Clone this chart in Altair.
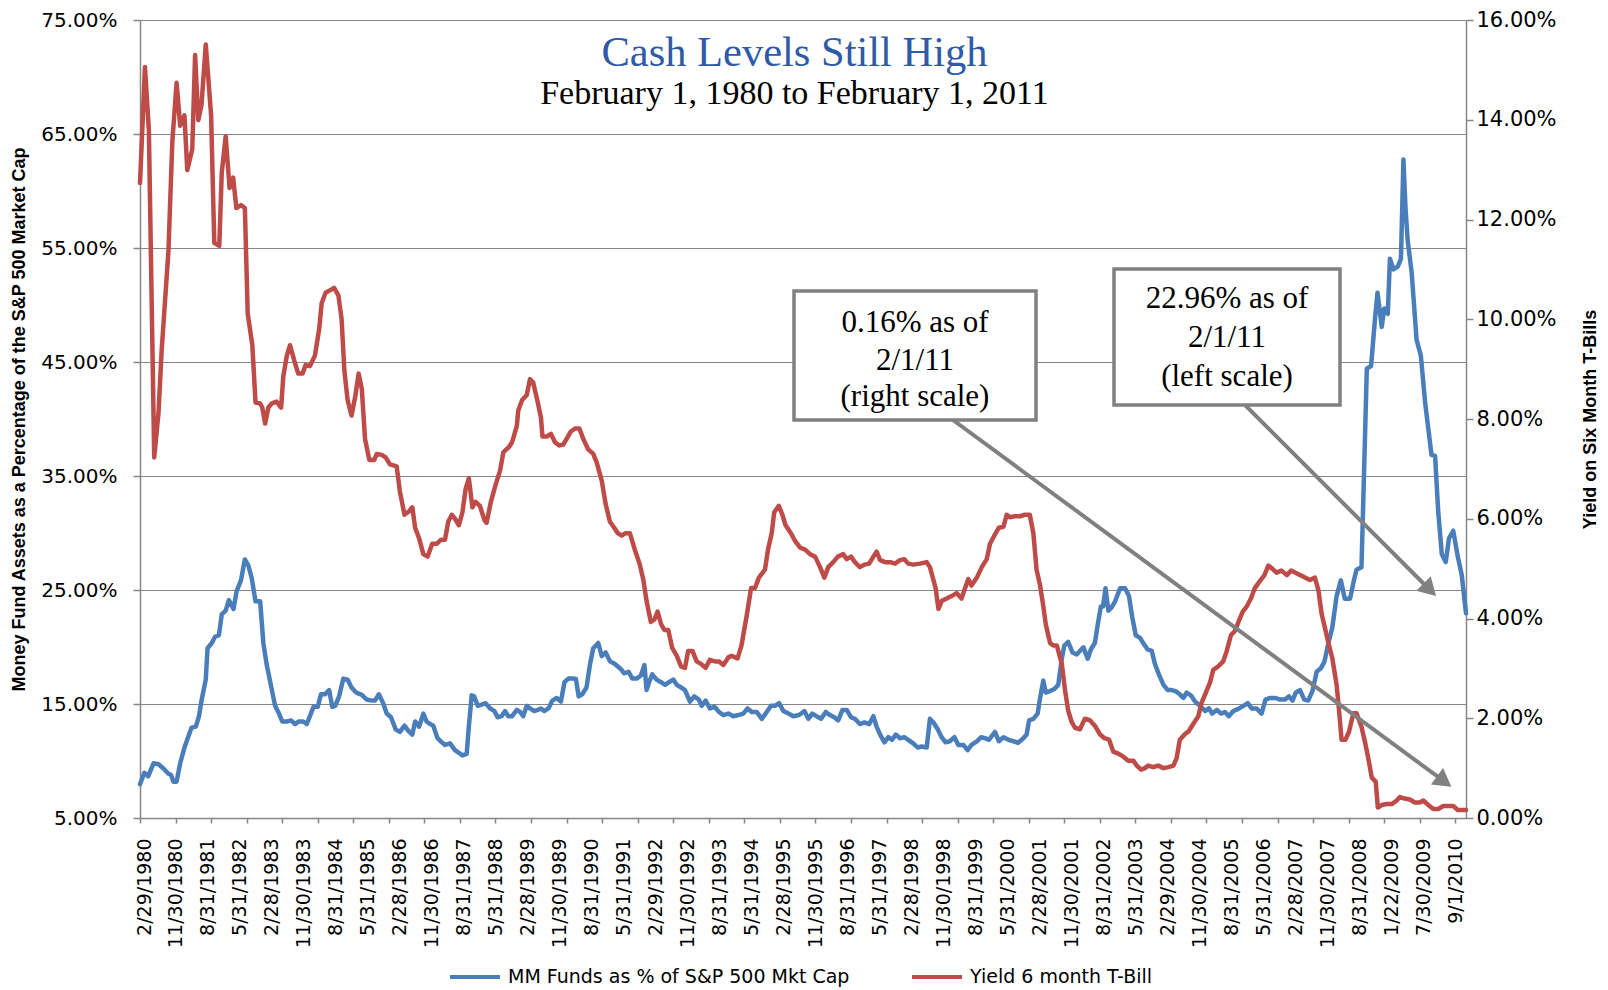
import math
import altair as alt
import pandas as pd

# ---------------- data ----------------
x_labels = ["2/29/1980", "11/30/1980", "8/31/1981", "5/31/1982", "2/28/1983", "11/30/1983",
            "8/31/1984", "5/31/1985", "2/28/1986", "11/30/1986", "8/31/1987", "5/31/1988",
            "2/28/1989", "11/30/1989", "8/31/1990", "5/31/1991", "2/29/1992", "11/30/1992",
            "8/31/1993", "5/31/1994", "2/28/1995", "11/30/1995", "8/31/1996", "5/31/1997",
            "2/28/1998", "11/30/1998", "8/31/1999", "5/31/2000", "2/28/2001", "11/30/2001",
            "8/31/2002", "5/31/2003", "2/29/2004", "11/30/2004", "8/31/2005", "5/31/2006",
            "2/28/2007", "11/30/2007", "8/31/2008", "1/22/2009", "7/30/2009", "9/1/2010"]
label_step = 9
tick_step = 10
last_obs = 373

left_ticks = [5, 15, 25, 35, 45, 55, 65, 75]
right_ticks = [0, 2, 4, 6, 8, 10, 12, 14, 16]

mm_name = "MM Funds as % of S&P 500 Mkt Cap"
tb_name = "Yield 6 month T-Bill"

# observation number (position along the time axis) and value in %
mm_idx = [0, 1.2, 2.3, 3.8, 5.2, 6.6, 8, 8.7, 9.4, 10.3, 11.3, 12.5, 13.8, 14.5, 15.7, 16.6, 17.3, 18.5, 19, 20.2,
          21.1, 22.2, 23, 24.1, 25, 26.3, 27.2, 28.4, 29.5, 30.5, 31.4, 32.5, 33.8, 34.7, 35.6, 36.8, 38, 39.1, 40, 41.3,
          42.5, 43.6, 44.7, 45.9, 46.9, 47.8, 48.8, 50, 50.9, 52, 53.2, 54.1, 54.9, 56, 57.2, 58.4, 59.5, 60.8, 62.4, 63.8,
          65.2, 66.1, 67.2, 68.4, 69.4, 70.6, 71.9, 73.1, 74.4, 75.5, 76.6, 77.4, 78.5, 79.7, 80.6, 81.6, 82.5, 83.7, 84.9, 85.8,
          87.2, 88.6, 89.7, 90.7, 91.9, 92.5, 93.3, 94, 95, 96.1, 97.2, 98.5, 99.7, 100.6, 101.7, 102.7, 103.6, 104.7, 106, 106.9,
          107.8, 108.8, 109.7, 110.9, 111.9, 112.8, 113.7, 114.9, 116, 117.2, 118.4, 119.4, 120.5, 121.9, 122.6, 123.4, 124.4, 125.6, 126.6, 127.5,
          128.9, 129.9, 131, 132.2, 133.6, 135.3, 136.2, 137.4, 138.5, 139.7, 140.9, 141.9, 142.5, 143.2, 144.1, 145.3, 146.6, 147.7, 148.8, 150,
          151, 152.2, 153.3, 154.7, 155.9, 157.2, 158, 159.1, 160.3, 161.6, 162.9, 164.1, 165.5, 166.9, 168.3, 169.7, 170.9, 172.1, 173.5, 174.9,
          176, 177.5, 178.6, 179.8, 181, 182.4, 183.8, 185.4, 186.9, 188, 189.1, 190.3, 191.6, 192.9, 194.1, 195.3, 196.4, 197.6, 198.8, 200,
          201.1, 202.5, 203.8, 205.1, 206.3, 207.2, 208.2, 209.4, 210.5, 211.5, 212.6, 213.8, 215, 216.1, 217.5, 218.8, 219.9, 221.3, 222.2, 223.2,
          224.4, 225.5, 226.6, 227.8, 229.1, 230.2, 231.6, 232.8, 233.9, 235.4, 236.6, 237.7, 238.8, 240.5, 241.6, 242.9, 244.3, 245.7, 247, 248.5,
          249.4, 250.1, 251.3, 252.5, 253.2, 254.1, 254.8, 256, 257.2, 258.3, 259.3, 260, 261.1, 262.3, 263.5, 264.4, 265.4, 266.6, 267.5, 268.6,
          269.4, 270.3, 270.9, 271.6, 272.4, 273.3, 274.3, 275.7, 277.1, 278.2, 279.1, 280.1, 281.3, 282.2, 283.4, 284.6, 285.5, 286.6, 287.9, 289.1,
          290.2, 291.3, 292.5, 293.5, 294.4, 295.6, 296.8, 298.2, 299.6, 300.7, 301.6, 302.9, 304.1, 305.2, 306.3, 307.5, 308.8, 310.4, 311.6, 312.7,
          314.1, 315.5, 316.6, 317.9, 319.3, 320.7, 322.1, 323.2, 324.2, 325.1, 326.3, 327.5, 328.6, 329.8, 331, 332.2, 333.2, 334.3, 335.4, 336.6,
          337.8, 338.9, 340.4, 341.3, 342.2, 343.6, 344.1, 345.1, 346.3, 347.4, 348.1, 349.3, 350, 351, 351.6, 352.6, 353.8, 354.7, 355.4, 356,
          356.6, 357.7, 359.1, 360.3, 361.5, 362.4, 363.3, 364.3, 365.2, 366.2, 367.3, 368.2, 369.4, 370.7, 371.8, 373]
mm_val = [7.96, 8.97, 8.66, 9.80, 9.71, 9.34, 8.88, 8.79, 8.19, 8.19, 9.80, 11.18, 12.32, 12.92, 13.01, 13.93, 15.30, 17.14, 19.89, 20.35,
          20.90, 21.03, 22.87, 23.19, 24.11, 23.33, 24.93, 25.85, 27.68, 27.13, 26.08, 24.01, 24.01, 20.35, 18.51, 16.68, 14.84, 14.16, 13.47, 13.47,
          13.56, 13.24, 13.47, 13.47, 13.24, 13.93, 14.75, 14.75, 15.85, 15.85, 16.22, 14.75, 14.84, 15.67, 17.23, 17.14, 16.45, 16.0, 15.8, 15.39,
          15.30, 15.30, 15.85, 15.07, 14.16, 13.84, 12.78, 12.55, 13.10, 12.64, 12.32, 13.47, 13.01, 14.16, 13.47, 13.24, 13.10, 12.00, 11.64, 11.41,
          11.55, 10.95, 10.72, 10.49, 10.63, 13.01, 15.76, 15.67, 14.84, 14.94, 15.07, 14.61, 14.38, 13.84, 13.93, 14.38, 13.93, 13.93, 14.48, 14.30,
          13.93, 14.84, 14.61, 14.38, 14.48, 14.61, 14.38, 14.61, 15.30, 15.53, 15.21, 16.91, 17.23, 17.23, 17.2, 15.67, 15.85, 16.45, 18.51, 19.89,
          20.35, 19.20, 19.52, 18.74, 18.51, 18.05, 17.69, 17.83, 17.23, 17.23, 17.50, 18.42, 16.22, 16.91, 17.60, 17.14, 16.91, 16.68, 16.91, 17.14,
          16.68, 16.45, 16.22, 15.21, 15.67, 15.39, 14.84, 15.30, 14.61, 14.75, 14.30, 14.03, 14.16, 13.93, 14.03, 14.16, 14.61, 14.30, 14.30, 13.70,
          14.16, 14.84, 14.84, 15.07, 14.38, 14.16, 13.93, 14.03, 14.38, 13.70, 14.16, 13.93, 13.70, 14.30, 14.03, 13.84, 13.56, 14.48, 14.48, 13.84,
          13.70, 13.24, 13.38, 13.24, 13.93, 13.01, 12.32, 11.64, 12.09, 11.86, 12.32, 12.00, 12.09, 11.86, 11.55, 11.18, 11.27, 11.18, 13.70, 13.38,
          12.78, 12.09, 11.64, 11.73, 12.09, 11.41, 11.41, 10.95, 11.41, 11.73, 12.09, 12.00, 11.86, 12.55, 11.73, 12.09, 11.86, 11.73, 11.6, 12.00,
          12.32, 13.56, 13.70, 14.16, 15.53, 17.05, 16.00, 16.13, 16.32, 16.68, 18.97, 20.12, 20.44, 19.52, 19.34, 19.66, 19.97, 18.97, 19.80, 20.35,
          21.95, 23.56, 23.56, 25.16, 23.19, 23.47, 24.01, 25.16, 25.16, 24.47, 22.64, 21.03, 20.80, 20.35, 19.80, 19.66, 18.51, 17.60, 16.68, 16.22,
          16.22, 16.13, 15.85, 15.53, 15.99, 15.76, 15.21, 14.84, 14.38, 14.61, 14.16, 14.48, 14.16, 14.30, 13.93, 14.38, 14.55, 14.84, 15.07, 14.61,
          14.61, 14.16, 15.39, 15.53, 15.53, 15.39, 15.39, 15.67, 15.30, 15.99, 16.22, 15.39, 15.30, 16.13, 17.83, 18.15, 18.74, 20.35, 21.72, 24.47,
          25.85, 24.24, 24.24, 25.62, 26.77, 27.00, 32.73, 44.42, 44.65, 48.77, 51.07, 48.08, 49.69, 49.23, 54.05, 53.13, 53.36, 54.05, 62.76, 58.40,
          55.65, 52.90, 46.94, 45.56, 41.44, 39.14, 36.85, 36.76, 31.81, 28.14, 27.45, 29.52, 30.20, 27.91, 26.31, 22.96]

tb_idx = [0, 1.4, 2.5, 4, 5.2, 6.1, 8, 9.1, 10.3, 11.3, 12.5, 13.3, 14.7, 15.5, 16.4, 17.3, 18.5, 20, 20.9, 22.3,
          23, 24.1, 25.2, 26.2, 27.1, 28.4, 29.5, 30.3, 31.6, 32.5, 33.8, 34.4, 35.2, 36.1, 37, 38.4, 39.7, 40.3, 41.3, 42.2,
          43.4, 44.5, 45.7, 46.6, 47.8, 49.2, 50.4, 51.1, 52.2, 53.4, 54.6, 55.8, 56.7, 57.5, 58.4, 59.5, 60.5, 61.5, 62.4, 63.3,
          64.5, 65.9, 66.6, 68, 69.1, 70.3, 72.2, 73.1, 74.4, 75.7, 76.6, 77.4, 78.5, 79.7, 80.9, 82.2, 83.5, 84.7, 85.8, 86.7,
          87.7, 88.6, 89.7, 90.7, 91.6, 92.5, 93.5, 94.4, 95.6, 96.9, 97.5, 98.7, 99.9, 101.3, 102.2, 103.8, 104.7, 106, 106.4, 107.5,
          108.8, 109.7, 110.6, 111.9, 112.8, 113.2, 114.4, 115.6, 116.7, 117.9, 119.1, 120, 121.2, 122.4, 123.6, 124.7, 126.1, 127.5, 128.5, 129.9,
          131, 132.2, 133.4, 134.4, 135.5, 136.6, 137.8, 139.1, 140.6, 141.6, 142.5, 143.7, 144.7, 145.6, 146.6, 147.5, 148.6, 149.7, 151, 152.2,
          153.3, 154.2, 155.4, 156.6, 157.8, 159.1, 160.3, 161.7, 162.9, 164.1, 165.5, 166.4, 168.1, 169.2, 170.6, 171.9, 173, 174.1, 175.8, 176.7,
          177.7, 178.4, 179.7, 180.7, 181.6, 183.1, 184.3, 185.7, 187.1, 188.5, 189.9, 191.3, 192.5, 193.6, 195, 196.3, 197.8, 198.8, 200, 201.1,
          202.5, 203.8, 205.1, 206.3, 207.2, 208.2, 209.6, 211, 212.4, 213.8, 215, 216.1, 217.5, 219.4, 221.3, 222.2, 223.2, 223.8, 224.6, 225.5,
          226.9, 228.3, 229.7, 231.1, 232.1, 233, 233.9, 235.4, 236.8, 238.2, 239.1, 240.3, 241.6, 242.9, 243.8, 244.7, 246.1, 247.5, 248.9, 250.3,
          251.3, 252.2, 253.2, 254.1, 254.8, 256, 256.9, 257.9, 259.3, 260.2, 261.1, 262.1, 263, 264.4, 265.8, 267.2, 268.6, 270, 271.3, 272.6,
          273.8, 275.2, 276.6, 278, 279.4, 280.4, 281.6, 282.7, 283.6, 285, 286.4, 287.9, 289.3, 290.7, 291.6, 292.5, 293.9, 294.9, 296.3, 297.7,
          298.6, 299.8, 301, 301.9, 303.3, 304.7, 305.7, 306.9, 308, 309.1, 310.2, 311.3, 312.5, 313.6, 315, 316.3, 317.4, 318.5, 319.7, 321.1,
          322.6, 323.8, 324.9, 326.3, 327.7, 329.1, 330.5, 331.5, 332.4, 333.3, 334.3, 335.4, 336.6, 337.3, 338, 339.1, 340.1, 341.3, 342.2, 343.6,
          344.6, 345.5, 346.5, 347.6, 348.2, 349.3, 350.7, 352.1, 353.5, 354.4, 355.8, 357.2, 358.6, 360, 361, 362.4, 363.8, 365.2, 366.6, 368,
          369.4, 370.7, 373]
tb_val = [12.73, 15.06, 13.78, 7.23, 8.12, 9.38, 11.37, 13.57, 14.74, 13.88, 14.09, 12.99, 13.41, 15.30, 13.99, 14.30, 15.51, 14.09, 11.53, 11.47,
          12.94, 13.67, 12.63, 12.84, 12.23, 12.29, 12.23, 10.11, 9.48, 8.33, 8.31, 8.23, 7.91, 8.23, 8.31, 8.35, 8.23, 8.85, 9.27, 9.48,
          9.17, 8.91, 8.91, 9.08, 9.06, 9.27, 9.80, 10.32, 10.53, 10.58, 10.63, 10.48, 10.01, 8.96, 8.38, 8.07, 8.43, 8.91, 8.6, 7.6,
          7.18, 7.18, 7.30, 7.28, 7.23, 7.09, 7.05, 6.55, 6.08, 6.15, 6.23, 5.82, 5.61, 5.29, 5.24, 5.50, 5.50, 5.58, 5.58, 5.94,
          6.08, 6.00, 5.87, 6.13, 6.60, 6.81, 6.23, 6.34, 6.26, 5.97, 5.92, 6.34, 6.65, 6.97, 7.33, 7.44, 7.54, 7.86, 8.17, 8.38,
          8.48, 8.80, 8.73, 8.33, 8.02, 7.65, 7.65, 7.70, 7.54, 7.47, 7.49, 7.60, 7.75, 7.81, 7.81, 7.60, 7.39, 7.30, 7.12, 6.76,
          6.29, 5.94, 5.82, 5.71, 5.66, 5.71, 5.71, 5.40, 5.08, 4.77, 4.35, 3.93, 3.98, 4.14, 3.88, 3.77, 3.77, 3.41, 3.25, 3.04,
          3.01, 3.35, 3.35, 3.14, 3.09, 3.01, 3.17, 3.14, 3.14, 3.07, 3.22, 3.25, 3.20, 3.46, 4.03, 4.61, 4.61, 4.82, 4.98, 5.40,
          5.71, 6.13, 6.26, 6.08, 5.87, 5.71, 5.55, 5.42, 5.38, 5.29, 5.24, 5.03, 4.82, 5.03, 5.13, 5.24, 5.29, 5.19, 5.24, 5.13,
          5.03, 5.08, 5.10, 5.24, 5.34, 5.17, 5.13, 5.13, 5.10, 5.17, 5.19, 5.10, 5.08, 5.10, 5.13, 5.03, 4.77, 4.61, 4.19, 4.35,
          4.40, 4.45, 4.51, 4.40, 4.61, 4.79, 4.66, 4.82, 5.03, 5.19, 5.50, 5.66, 5.82, 5.84, 6.08, 6.03, 6.05, 6.05, 6.08, 6.08,
          5.71, 4.98, 4.66, 4.24, 3.88, 3.51, 3.46, 3.46, 3.09, 2.57, 2.15, 1.92, 1.81, 1.78, 1.99, 1.96, 1.85, 1.68, 1.60, 1.57,
          1.33, 1.29, 1.23, 1.15, 1.15, 1.05, 0.97, 1.00, 1.05, 1.02, 1.05, 1.00, 1.02, 1.05, 1.20, 1.57, 1.68, 1.73, 1.89, 2.04,
          2.31, 2.51, 2.72, 2.97, 3.04, 3.14, 3.35, 3.67, 3.75, 3.95, 4.14, 4.24, 4.40, 4.61, 4.75, 4.87, 5.06, 5.00, 4.92, 4.96,
          4.87, 4.96, 4.92, 4.87, 4.82, 4.77, 4.82, 4.56, 4.09, 3.82, 3.51, 3.20, 2.67, 2.15, 1.57, 1.57, 1.73, 2.10, 2.10, 1.83,
          1.52, 1.20, 0.81, 0.73, 0.21, 0.26, 0.28, 0.28, 0.35, 0.42, 0.39, 0.37, 0.31, 0.31, 0.35, 0.26, 0.18, 0.18, 0.24, 0.24,
          0.24, 0.16, 0.16]

df = pd.concat([
    pd.DataFrame({"idx": mm_idx, "value": mm_val, "series": mm_name}),
    pd.DataFrame({"idx": tb_idx, "value": tb_val, "series": tb_name}),
], ignore_index=True)

# ---------------- styling ----------------
W, H = 1326, 798
TOP = 12
GRID = "#868686"
BLUE = "#4A7EBB"
RED = "#BE4B48"
ARROW = "#808080"
SANS = "DejaVu Sans"
SERIF = "Liberation Serif"
BOLD = "Liberation Sans"

label_values = list(range(0, len(x_labels) * label_step, label_step))
tick_values = list(range(0, last_obs + 1, tick_step))
label_array = "[" + ",".join("'" + s + "'" for s in x_labels) + "]"
pct_expr = "format(datum.value, '.2f') + '%'"

x_scale = alt.Scale(domain=[0, last_obs], nice=False, zero=False)
color_scale = alt.Scale(domain=[mm_name, tb_name], range=[BLUE, RED])

legend = alt.Legend(
    title=None, orient="none", legendX=308, legendY=930, direction="horizontal",
    symbolType="stroke", symbolStrokeWidth=4, symbolSize=2500, symbolOffset=0,
    labelFont=SANS, labelFontSize=19, labelColor="#000000", labelLimit=600,
    labelOffset=6, columnPadding=54,
)

x_label_axis = alt.Axis(
    values=label_values, labelExpr=label_array + "[round(datum.value / " + str(label_step) + ")]",
    labelAngle=270, labelFont=SANS, labelFontSize=19, labelColor="#000000",
    labelPadding=20, labelOffset=4, labelOverlap=False, ticks=False, grid=False,
    domainColor=GRID, domainWidth=1.5, title=None, orient="bottom",
)
x_tick_axis = alt.Axis(
    values=tick_values, labels=False, ticks=True, tickSize=5, tickColor=GRID, tickWidth=1.5,
    domain=False, grid=False, title=None, orient="bottom",
)

left_axis = alt.Axis(
    values=left_ticks, labelExpr=pct_expr, labelFont=SANS, labelFontSize=20, labelColor="#000000",
    labelPadding=16, tickSize=7, tickColor=GRID, tickWidth=1.5, domainColor=GRID, domainWidth=1.5,
    grid=True, gridColor=GRID, gridWidth=1.2, orient="left",
    title="Money Fund  Assets as a Percentage of the S&P 500 Market Cap",
    titleFont=BOLD, titleFontSize=18, titleFontWeight="bold", titleColor="#000000",
    titleX=-121, titleY=H / 2, titleAngle=270, titleBaseline="middle", titleAlign="center",
)
right_axis = alt.Axis(
    values=right_ticks, labelExpr=pct_expr, labelFont=SANS, labelFontSize=21, labelColor="#000000",
    labelPadding=3, tickSize=7, tickColor=GRID, tickWidth=1.5, domainColor=GRID, domainWidth=1.5,
    grid=False, orient="right",
    title="Yield on Six Month T-Bills",
    titleFont=BOLD, titleFontSize=18, titleFontWeight="bold", titleColor="#000000",
    titleX=124, titleY=H / 2, titleAngle=270, titleBaseline="middle", titleAlign="center",
)

base = alt.Chart(df)

mm_line = base.transform_filter(alt.datum.series == mm_name).mark_line(
    strokeWidth=4.5, strokeJoin="round", strokeCap="round"
).encode(
    x=alt.X("idx:Q", scale=x_scale, axis=x_label_axis),
    y=alt.Y("value:Q", scale=alt.Scale(domain=[5, 75], nice=False, zero=False), axis=left_axis),
    color=alt.Color("series:N", scale=color_scale, legend=legend),
)

tb_line = base.transform_filter(alt.datum.series == tb_name).mark_line(
    strokeWidth=4.5, strokeJoin="round", strokeCap="round"
).encode(
    x=alt.X("idx:Q", scale=x_scale, axis=x_tick_axis),
    y=alt.Y("value:Q", scale=alt.Scale(domain=[0, 16], nice=False, zero=False), axis=right_axis),
    color=alt.Color("series:N", scale=color_scale, legend=legend),
)

one = pd.DataFrame({"k": [0]})


def text(s, x, y, size, color="#000000", font=SERIF):
    return alt.Chart(one).mark_text(
        text=s, font=font, fontSize=size, color=color, align="center", baseline="alphabetic"
    ).encode(x=alt.value(x), y=alt.value(y))


def box(x, x2, y, y2):
    return alt.Chart(one).mark_rect(fill="white", stroke=ARROW, strokeWidth=3.5).encode(
        x=alt.value(x), x2=alt.value(x2), y=alt.value(y), y2=alt.value(y2)
    )


def arrow(x1, y1, x2, y2):
    dx, dy = x2 - x1, y2 - y1
    ln = (dx * dx + dy * dy) ** 0.5
    ux, uy = dx / ln, dy / ln
    ang = math.degrees(math.atan2(dx, -dy)) % 360
    line = alt.Chart(one).mark_rule(color=ARROW, strokeWidth=4).encode(
        x=alt.value(x1), y=alt.value(y1), x2=alt.value(x2 - 11 * ux), y2=alt.value(y2 - 11 * uy)
    )
    head = alt.Chart(one).mark_point(
        shape="triangle-up", filled=True, color=ARROW, opacity=1, size=420, angle=ang
    ).encode(x=alt.value(x2 - 6 * ux), y=alt.value(y2 - 6 * uy))
    return [line, head]


annotations = [
    text("Cash Levels Still High", 654.5, 46, 42.5, color="#2E5AA8"),
    text("February 1, 1980 to February 1, 2011", 654.5, 84, 34),
    box(654, 896, 271, 400),
    text("0.16% as of", 775, 312, 31),
    text("2/1/11", 775, 350, 31),
    text("(right scale)", 775, 386, 31),
    box(974, 1200, 249, 385),
    text("22.96% as of", 1087, 288, 31),
    text("2/1/11", 1087, 327, 31),
    text("(left scale)", 1087, 366, 31),
]
annotations += arrow(813, 400, 1309, 765)
annotations += arrow(1105, 385, 1294, 574)

chart = alt.layer(mm_line, tb_line, *annotations).resolve_scale(
    y="independent"
).resolve_axis(
    x="independent", y="independent"
).properties(
    width=W, height=H,
    autosize=alt.AutoSizeParams(type="none"),
    padding={"left": 132, "top": TOP, "right": 134, "bottom": 170},
    background="white",
).configure_view(stroke=None)

chart.save("out.html", embed_options={"renderer": "svg", "actions": False})
